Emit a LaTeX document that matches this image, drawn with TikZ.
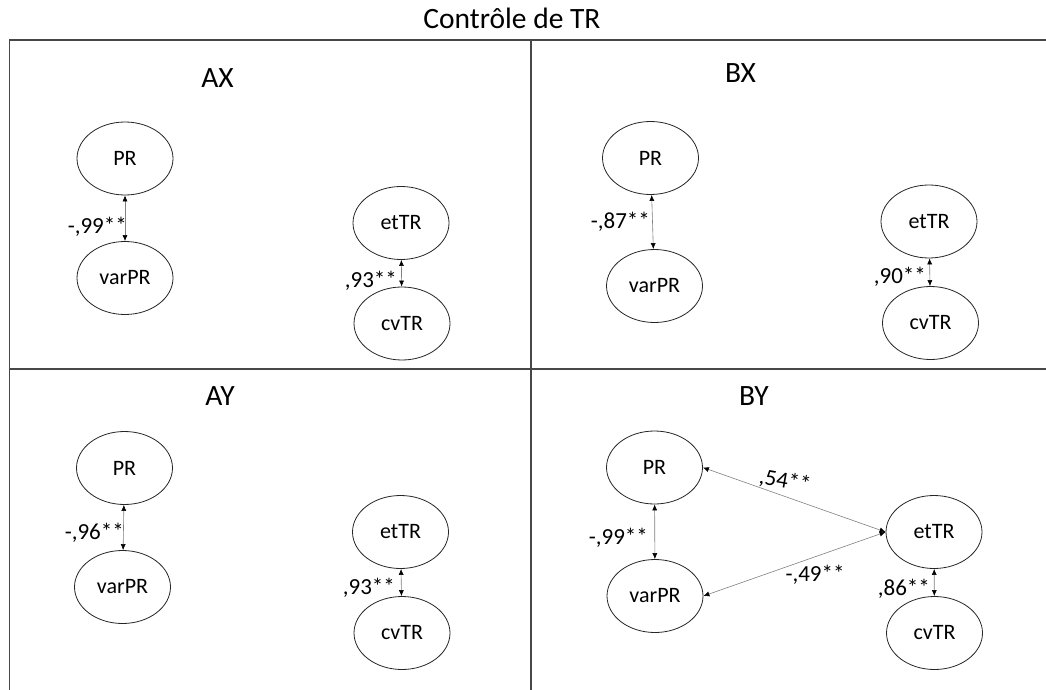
\documentclass[tikz,border=0pt]{standalone}
\usepackage{fontspec}
\setmainfont{Carlito}
\usetikzlibrary{shapes.geometric,arrows.meta}
\begin{document}
\begin{tikzpicture}[x=1pt,y=-1pt,
  var/.style={ellipse,draw=black!85,line width=0.8pt,minimum width=96pt,minimum height=73pt,inner sep=0pt,font=\fontsize{22}{26}\selectfont},
  corr/.style={draw=black!50,line width=0.6pt,{Latex[length=6pt,width=5pt,color=black]}-{Latex[length=6pt,width=5pt,color=black]}},
  coef/.style={font=\fontsize{23}{27}\selectfont,inner sep=0pt,anchor=base east},
  panel/.style={font=\fontsize{29.5}{34}\selectfont,inner sep=0pt,anchor=base},
  frame/.style={draw=black!72,line width=1.6pt}]
\useasboundingbox (0,0) rectangle (1046,690);
% frame
\draw[frame] (9.5,690) -- (9.5,40) -- (1046,40);
\draw[frame] (9.5,369) -- (1046,369);
\draw[frame] (531,40) -- (531,690);
% titles
\node[panel] (title) at (512,29) {Contrôle de TR};
\node[panel] (tAX) at (217.5,88) {AX};
\node[panel] (tBX) at (740.5,83) {BX};
\node[panel] (tAY) at (220,405) {AY};
\node[panel] (tBY) at (754,405) {BY};
% AX
\node[var] (axPR) at (125,158.5) {PR};
\node[var] (axvar) at (125,278) {varPR};
\node[var] (axet) at (401,223) {etTR};
\node[var] (axcv) at (402,323.5) {cvTR};
\draw[corr] (axPR) -- (axvar);
\draw[corr] (axet) -- (axcv);
\node[coef] (lax1) at (127,233) {-,99**};
\node[coef] (lax2) at (397,287) {,93**};
% BX
\node[var] (bxPR) at (650.5,158) {PR};
\node[var] (bxvar) at (654.5,286) {varPR};
\node[var] (bxet) at (929,221.5) {etTR};
\node[var] (bxcv) at (930.5,323) {cvTR};
\draw[corr] (bxPR) -- (bxvar);
\draw[corr] (bxet) -- (bxcv);
\node[coef] (lbx1) at (650,228) {-,87**};
\node[coef] (lbx2) at (926,283) {,90**};
% AY
\node[var] (ayPR) at (124.5,468) {PR};
\node[var] (ayvar) at (122.5,587) {varPR};
\node[var] (ayet) at (400.5,532) {etTR};
\node[var] (aycv) at (402,633) {cvTR};
\draw[corr] (ayPR) -- (ayvar);
\draw[corr] (ayet) -- (aycv);
\node[coef] (lay1) at (124,539) {-,96**};
\node[coef] (lay2) at (395,594) {,93**};
% BY
\node[var] (byPR) at (654.5,467.5) {PR};
\node[var] (byvar) at (655,596) {varPR};
\node[var] (byet) at (934,532) {etTR};
\node[var] (bycv) at (934.5,633) {cvTR};
\draw[corr] (byPR) -- (byvar);
\draw[corr] (byet) -- (bycv);
\draw[corr] (byPR.east) -- (byet.west);
\draw[corr] (byvar.east) -- (byet.west);
\node[coef] (lby1) at (648,544) {-,99**};
\node[coef] (lby2) at (930,595) {,86**};
\node[coef,anchor=center,rotate=-10] (lby3) at (785,481) {,54**};
\node[coef,anchor=base] (lby4) at (815,581) {-,49**};
\end{tikzpicture}
\end{document}
